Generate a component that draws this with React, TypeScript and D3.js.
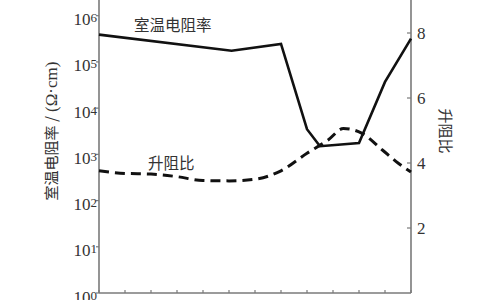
import React from "react";
import * as d3 from "d3";

const xTicks = [0, 1, 2, 3, 4, 5, 6, 7, 8, 9, 10, 11, 12];
const leftTickExps = [0, 1, 2, 3, 4, 5, 6];
const rightTicks = [2, 4, 6, 8];

const rhoX = [0, 5.1, 7.0, 8.0, 8.5, 10.0, 11.0, 12.0];
const rhoValues = [3.9e5, 1.75e5, 2.45e5, 3.5e3, 1.5e3, 1.75e3, 3.7e4, 3.2e5];

const ratioX = [0, 1, 2, 3, 4, 5, 6, 7, 8, 8.8, 9.4, 10.1, 10.9, 11.5, 12];
const ratioValues = [3.76, 3.68, 3.66, 3.58, 3.46, 3.45, 3.5, 3.76, 4.3, 4.7, 5.06, 4.92, 4.4, 4.0, 3.72];

const W = 500;
const H = 300;
const left = 99;
const right = 411;
const bottom = 293;

export default function App() {
  const x = d3.scaleLinear().domain([0, 12]).range([left, right]);
  const yL = d3.scaleLog().domain([1, 1e6]).range([bottom, 15.7]);
  const yR = d3.scaleLinear().domain([0, 8]).range([bottom, 33]);

  const solid = d3
    .line<number>()
    .x((_, i) => x(rhoX[i]))
    .y((d) => yL(d))(rhoValues) as string;

  const dashed = d3
    .line<number>()
    .x((_, i) => x(ratioX[i]))
    .y((d) => yR(d))
    .curve(d3.curveMonotoneX)(ratioValues) as string;

  const serif = "'Liberation Serif', 'Times New Roman', serif";
  const cjk = "'Noto Sans CJK SC', sans-serif";
  const axisColor = "#7a7a7a";
  const textColor = "#333";

  return (
    <svg
      width={W}
      height={H}
      style={{ position: "absolute", left: 0, top: 0, background: "#fff" }}
    >
      {/* axes */}
      <line x1={left} y1={0} x2={left} y2={bottom} stroke={axisColor} strokeWidth={1.6} />
      <line x1={right} y1={0} x2={right} y2={bottom} stroke={axisColor} strokeWidth={1.6} />
      <line x1={left} y1={bottom} x2={right} y2={bottom} stroke={axisColor} strokeWidth={1.6} />

      {xTicks.map((t) => (
        <line key={"xt" + t} x1={x(t)} x2={x(t)} y1={bottom} y2={bottom - 3} stroke={axisColor} strokeWidth={1.2} />
      ))}

      {leftTickExps.map((e) => {
        const yy = yL(Math.pow(10, e));
        return (
          <g key={"lt" + e}>
            <line x1={left - 3} x2={left} y1={yy} y2={yy} stroke={axisColor} strokeWidth={1.2} />
            <text x={left - 2} y={yy + 9.5} textAnchor="end" fontFamily={serif} fontSize={17} fill={textColor}>
              10<tspan dy={-3} fontSize={13}>{e}</tspan>
            </text>
          </g>
        );
      })}

      {rightTicks.map((t) => {
        const yy = yR(t);
        return (
          <g key={"rt" + t}>
            <line x1={right - 4} x2={right} y1={yy} y2={yy} stroke={axisColor} strokeWidth={1.2} />
            <text x={right + 6} y={yy + 5.5} textAnchor="start" fontFamily={serif} fontSize={17} fill={textColor}>
              {t}
            </text>
          </g>
        );
      })}

      {/* axis titles */}
      <text
        transform={`translate(57, 131) rotate(-90)`}
        textAnchor="middle"
        fontFamily={cjk}
        fontSize={15}
        fill={textColor}
      >
        室温电阻率 /<tspan fontFamily={serif} fontSize={17}> (Ω·cm)</tspan>
      </text>
      <text
        transform={`translate(440, 131) rotate(90)`}
        textAnchor="middle"
        fontFamily={cjk}
        fontSize={15}
        fill={textColor}
      >
        升阻比
      </text>

      {/* series labels */}
      <text x={134} y={31} fontFamily={cjk} fontSize={15.5} fill={textColor}>
        室温电阻率
      </text>
      <text x={148} y={169} fontFamily={cjk} fontSize={15.5} fill={textColor}>
        升阻比
      </text>

      {/* data */}
      <path d={solid} fill="none" stroke="#111" strokeWidth={2.6} strokeLinejoin="miter" />
      <path d={dashed} fill="none" stroke="#111" strokeWidth={3} strokeDasharray="10 6" />
    </svg>
  );
}
